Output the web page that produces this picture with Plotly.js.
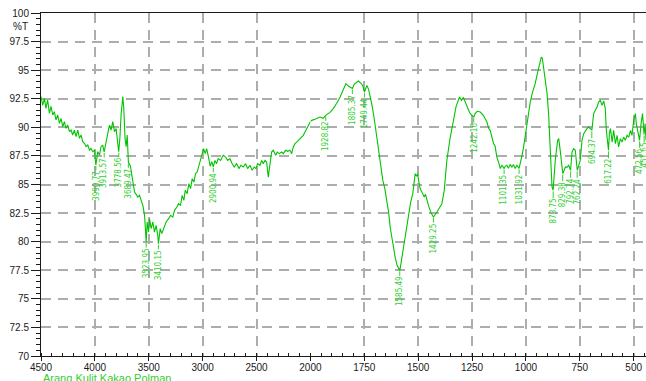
<!DOCTYPE html>
<html>
<head>
<meta charset="utf-8">
<script src="https://cdn.plot.ly/plotly-3.0.1.min.js"></script>
<style>
html,body{margin:0;padding:0;background:#fff;overflow:hidden;}
#chart{width:646px;height:381px;}
</style>
</head>
<body>
<div id="chart"></div>
<script>
// FTIR spectrum: Arang Kulit Kakao Polman (wavenumber in 1/cm, transmittance in %T)
const wavenumber = [
4500,4484,4468,4454,4438,4422,4407,4391,4376,4361,4345,4329,4314,4298,4283,4268,4252,4236,4221,4206,
4190,4175,4159,4143,4128,4113,4097,4082,4066,4050,4036,4020,4004,3991,3973,3957,3943,3927,3914,3898,
3880,3865,3850,3834,3818,3803,3790,3779,3768,3757,3741,3732,3720,3710,3700,3689,3670,3648,3632,3617,
3602,3586,3571,3555,3539,3524,3515,3502,3493,3478,3462,3447,3432,3416,3410,3394,3379,3360,3339,3316,
3298,3277,3261,3239,3224,3205,3190,3174,3162,3144,3128,3112,3097,3081,3066,3051,3035,3019,3007,2991,
2976,2963,2949,2930,2915,2901,2886,2871,2856,2833,2809,2787,2768,2747,2726,2707,2685,2663,2645,2623,
2601,2583,2561,2540,2521,2505,2490,2468,2452,2438,2422,2406,2391,2375,2360,2345,2322,2308,2289,2267,
2252,2230,2211,2190,2174,2159,2143,2127,2112,2097,2081,2066,2050,2020,2000,
1994,1979,1955,1941,1929,1909,1894,1878,1862,1849,1835,1823,1805,1797,1785,1778,1765,1756,1749,1738,
1730,1723,1714,1705,1695,1685,1674,1664,1655,1646,1637,1630,1619,1607,1598,1585,1579,1568,1558,1545,
1535,1525,1519,1514,1508,1503,1498,1491,1482,1472,1466,1460,1451,1440,1429,1413,1403,1390,1379,1367,
1352,1336,1324,1308,1299,1290,1282,1274,1266,1259,1242,1235,1226,1212,1198,1181,1173,1166,1158,1150,
1143,1135,1127,1119,1111,1101,1096,1088,1081,1073,1065,1058,1050,1042,1032,1026,1019,1011,1003,995,
988,980,971,957,949,941,934,929,924,918,910,902,895,887,879,874,871,864,853,848,
841,829,817,810,802,793,786,779,771,762,748,740,732,724,717,709,701,694,686,678,
670,663,655,647,639,632,627,617,613,608,600,593,585,577,570,562,554,547,539,531,
523,515,508,500,492,488,481,473,466,459,452,447,443
];
const transmittance = [
92.69,91.95,92.54,91.66,92.39,91.22,91.84,91.08,91.37,90.64,91.08,90.35,90.79,90.06,90.50,89.91,90.20,89.62,89.76,89.33,
89.76,89.19,89.76,89.04,89.33,88.75,88.60,88.31,88.45,88.01,88.16,87.87,88.01,86.70,87.87,87.58,88.31,88.45,87.85,88.75,
89.48,90.20,89.76,90.50,89.62,89.90,89.00,87.87,89.04,91.08,92.69,91.66,89.04,88.31,89.33,86.94,86.60,85.30,84.34,84.14,
83.90,84.05,83.61,83.18,82.30,79.97,81.72,80.84,82.01,81.14,81.72,80.84,81.43,80.55,79.82,81.14,80.70,81.28,81.72,82.01,
82.30,82.15,82.74,83.03,83.32,83.18,84.05,83.61,84.49,84.20,85.07,84.64,85.51,85.21,85.95,86.09,86.68,87.11,87.70,88.14,
87.70,88.14,87.55,86.60,87.00,86.55,87.11,86.82,87.26,87.11,87.55,87.40,87.11,87.26,86.82,86.53,86.82,86.39,86.68,86.53,
86.82,86.39,86.68,86.24,86.53,86.39,86.82,86.68,87.11,86.82,87.11,86.96,85.65,86.68,87.84,87.99,87.55,87.84,87.70,87.84,
87.70,87.99,87.90,87.99,87.70,88.28,88.57,88.71,88.86,89.01,89.15,89.30,89.59,90.18,90.52,
90.61,90.70,90.90,90.79,91.05,91.31,91.64,92.10,92.65,93.24,93.82,93.59,93.39,93.76,93.94,94.05,93.85,93.59,93.09,93.67,
93.32,92.80,91.92,90.90,89.56,87.99,86.59,85.36,84.66,83.61,82.56,81.28,79.94,78.65,77.93,77.49,78.19,79.53,80.99,82.45,
83.44,84.20,85.36,85.95,85.71,85.95,85.36,84.64,84.31,83.90,84.14,83.61,83.09,82.50,82.15,82.59,82.91,83.32,84.49,87.11,
89.04,90.61,91.84,92.65,92.36,92.62,92.19,91.92,91.49,91.22,90.90,91.22,91.40,91.34,91.05,90.46,89.91,89.74,89.13,88.57,
88.34,87.40,86.94,86.39,86.68,86.39,86.59,86.68,86.41,86.76,86.50,86.76,86.39,86.68,86.41,86.85,87.46,88.27,89.30,90.32,
91.31,92.21,92.97,93.82,94.55,95.14,95.86,96.15,96.04,95.28,94.11,92.95,91.22,88.28,84.78,84.49,85.36,87.11,88.86,89.01,
87.99,85.95,86.53,86.50,86.68,86.24,87.84,88.14,87.99,86.24,87.11,88.86,89.45,89.74,89.89,90.03,89.89,89.75,91.20,91.49,
91.78,92.21,92.36,91.92,92.30,91.64,89.74,87.99,89.45,89.89,88.71,89.74,88.57,89.30,88.28,89.01,88.71,89.15,88.86,89.30,
89.15,89.74,89.30,90.61,91.20,90.32,89.60,88.86,90.32,91.20,89.37,90.32,88.90
];
const peakWavenumbers = [
3990.77,3913.57,3778.56,3689.47,3523.95,3410.15,2900.94,1928.82,1805.37,1749.44,1585.49,1429.25,
1242.16,1101.35,1031.92,873.75,829.38,792.74,762.24,694.37,617.22,472.56,451.65
];
const highTicks = [4500, 4000, 3500, 3000, 2500, 2000];
const lowTicks = [1750, 1500, 1250, 1000, 750, 500];
const sampleName = 'Arang Kulit Kakao Polman';
const yUnit = '%T';
const xUnit = '1/cm';

const split = 2000;
const hiX = [], hiY = [], loX = [], loY = [];
wavenumber.forEach((w, i) => {
  if (w >= split) { hiX.push(w); hiY.push(transmittance[i]); }
  if (w <= split) { loX.push(w); loY.push(transmittance[i]); }
});

const green = '#00c400';
const labelGreen = '#2fd02f';
const axisColor = '#1a1a1a';
const tickFont = {family: 'Liberation Sans, Arial, sans-serif', size: 10, color: axisColor};
const grid = {showgrid: true, gridcolor: '#adadad', gridwidth: 2, griddash: '10px,7px'};
const splitFrac = 0.4453;

const traces = [
  {x: hiX, y: hiY, xaxis: 'x', yaxis: 'y', mode: 'lines', line: {color: green, width: 1.1}, hoverinfo: 'skip'},
  {x: loX, y: loY, xaxis: 'x2', yaxis: 'y', mode: 'lines', line: {color: green, width: 1.1}, hoverinfo: 'skip'}
];

const annotations = [];
peakWavenumbers.forEach(p => {
  let best = 0;
  wavenumber.forEach((w, i) => { if (Math.abs(w - p) < Math.abs(wavenumber[best] - p)) best = i; });
  annotations.push({
    x: p, y: transmittance[best], xref: p >= split ? 'x' : 'x2', yref: 'y',
    text: p.toFixed(2), textangle: -90, showarrow: true, arrowhead: 0, arrowwidth: 1,
    arrowcolor: labelGreen, ax: 0, ay: 21, standoff: 1, borderpad: 0,
    font: {family: 'Liberation Sans Narrow, DejaVu Sans Condensed, Liberation Sans, sans-serif', size: 8, color: labelGreen}
  });
});
annotations.push({xref: 'paper', yref: 'y', x: 0, y: 98.84, xanchor: 'right', yanchor: 'middle', xshift: -11,
  text: yUnit, showarrow: false, font: tickFont});
annotations.push({xref: 'paper', yref: 'paper', x: 0.9764, y: -0.066, xanchor: 'left', yanchor: 'top',
  text: xUnit, showarrow: false, font: tickFont});
annotations.push({xref: 'paper', yref: 'paper', x: 0, y: -0.041, xanchor: 'left', yanchor: 'top',
  text: sampleName, showarrow: false, font: {family: 'Liberation Sans, Arial, sans-serif', size: 11, color: labelGreen}});

const xCommon = {
  ticks: 'outside', ticklen: 4, tickwidth: 1, tickcolor: axisColor,
  showline: true, linecolor: axisColor, linewidth: 1, mirror: true, zeroline: false,
  tickfont: tickFont, anchor: 'y', tickmode: 'array', ticklabelstandoff: -2
};

const layout = {
  width: 646, height: 381,
  margin: {l: 41, r: 0, t: 13, b: 25},
  paper_bgcolor: '#ffffff', plot_bgcolor: '#ffffff',
  showlegend: false,
  xaxis: Object.assign({}, xCommon, grid, {
    domain: [0, splitFrac], range: [4500, 2000], tickvals: highTicks,
    minor: {tickmode: 'linear', tick0: 2000, dtick: 100, ticks: 'inside', ticklen: 3, tickcolor: axisColor, showgrid: false}
  }),
  xaxis2: Object.assign({}, xCommon, grid, {
    domain: [splitFrac, 1], range: [2000, 443], tickvals: lowTicks,
    minor: {tickmode: 'linear', tick0: 500, dtick: 50, ticks: 'inside', ticklen: 3, tickcolor: axisColor, showgrid: false}
  }),
  yaxis: Object.assign({}, grid, {
    range: [70, 100], tickmode: 'linear', tick0: 70, dtick: 2.5,
    ticks: 'outside', ticklen: 9, tickwidth: 1, tickcolor: axisColor,
    minor: {dtick: 0.5, ticks: 'outside', ticklen: 4, tickcolor: axisColor, showgrid: false},
    showline: true, linecolor: axisColor, linewidth: 1, zeroline: false,
    tickfont: tickFont
  }),
  annotations: annotations
};

Plotly.newPlot('chart', traces, layout, {staticPlot: true, displayModeBar: false});
</script>
</body>
</html>
